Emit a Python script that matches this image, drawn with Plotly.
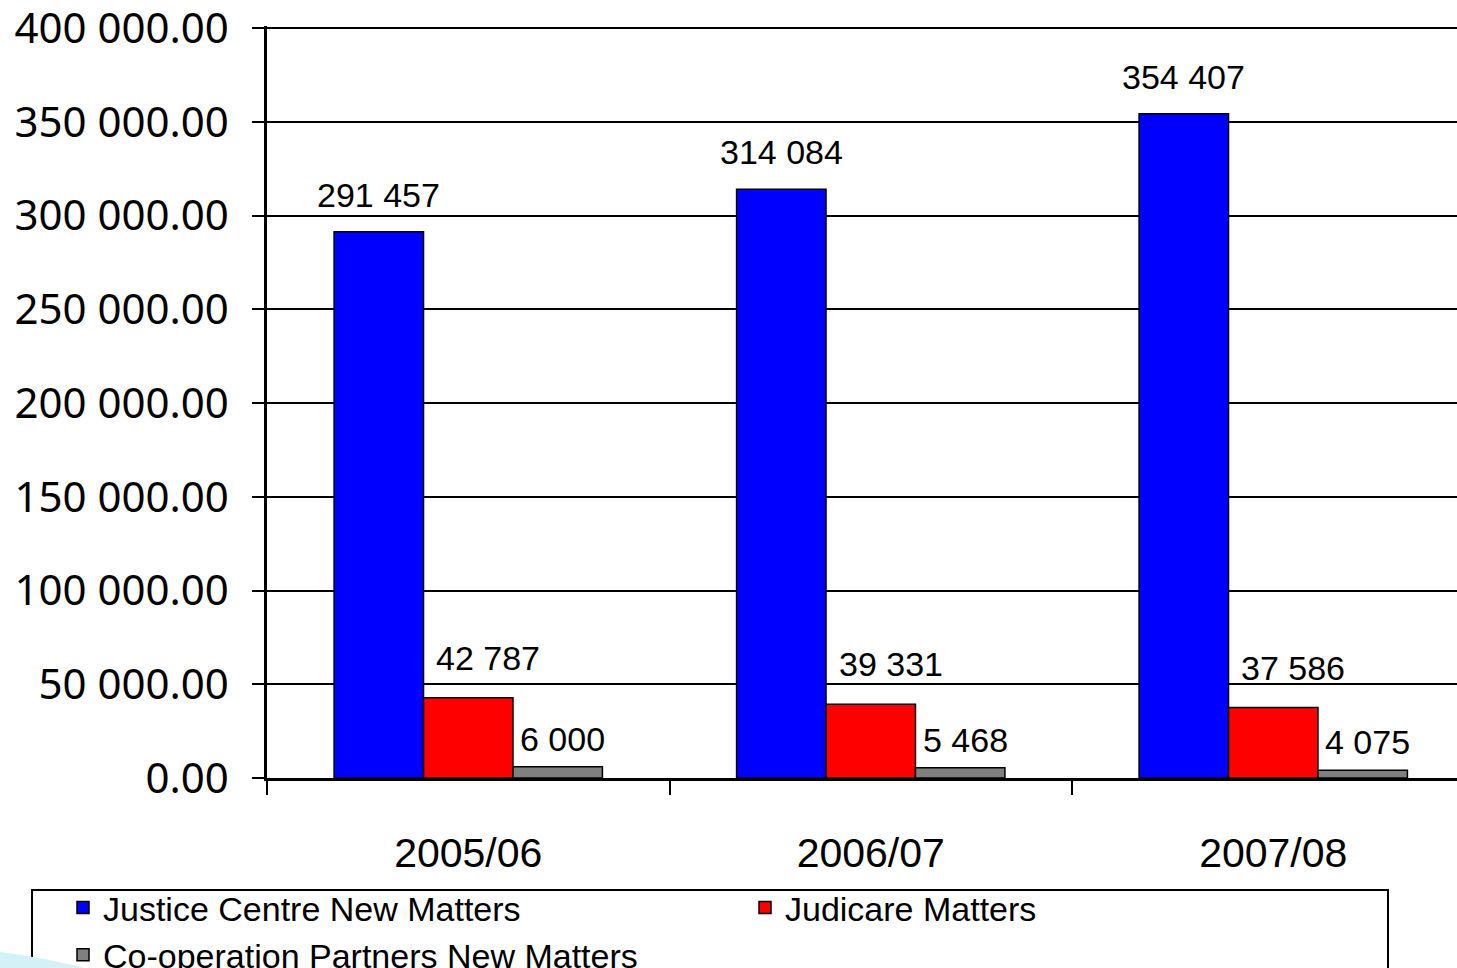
import plotly.graph_objects as go

# Matters per financial year
years = ["2005/06", "2006/07", "2007/08"]
justice_centre = [291457, 314084, 354407]
judicare = [42787, 39331, 37586]
cooperation = [6000, 5468, 4075]

series_names = [
    "Justice Centre New Matters",
    "Judicare Matters",
    "Co-operation Partners New Matters",
]
series_values = [justice_centre, judicare, cooperation]
series_colors = ["#0000FF", "#FF0000", "#808080"]

Y_MAX = 400000
Y_TOP = 401200  # a little headroom so the top gridline is drawn

W, H = 1457, 968
L, R, T, B = 267, 0, 26, 190
PW, PH = W - L - R, H - T - B
BAR_GAP = 1 / 3
bar_w = (1 - BAR_GAP) / len(series_values)

fig = go.Figure()
for name, vals, col in zip(series_names, series_values, series_colors):
    fig.add_trace(go.Bar(
        x=years, y=vals, name=name,
        marker=dict(color=col, line=dict(color="black", width=1.5)),
    ))

# value labels above each bar
label_style = [(0, 37), (20, 40), (5, 28)]  # (xshift, yshift) per series
annotations = []
for k, (vals, (xs, ys)) in enumerate(zip(series_values, label_style)):
    for i, v in enumerate(vals):
        annotations.append(dict(
            x=i + (k - 1) * bar_w, y=v, xref="x", yref="y",
            text=f"{v:,}".replace(",", " "),
            showarrow=False, xanchor="center", yanchor="middle",
            xshift=xs, yshift=ys,
            font=dict(family="Liberation Sans, Arial", size=34, color="black"),
        ))


def pa(x, y):
    """pixel position -> plot-area paper coordinates"""
    return (x - L) / PW, (H - B - y) / PH


shapes = []
# legend frame
fx0, fy1 = pa(32, 890)
fx1, _ = pa(1388, 890)
_, fy0 = pa(0, 1000)
shapes.append(dict(type="rect", xref="paper", yref="paper",
                   x0=fx0, x1=fx1, y0=fy0, y1=fy1,
                   line=dict(color="black", width=2), fillcolor="white",
                   layer="below"))
# decorative swoosh in the lower left corner
a, b, c, d = pa(0, 952), pa(40, 957), pa(85, 968), pa(0, 968)
path = (f"M {a[0]},{a[1]} Q {b[0]},{b[1]} {c[0]},{c[1]} "
        f"L {d[0]},{d[1]} Z")
shapes.append(dict(type="path", xref="paper", yref="paper", path=path,
                   fillcolor="#d4f1f7", line=dict(width=0), layer="above"))

n_visible = PW / 402.5
lx, ly = pa(63, 879)

fig.update_layout(
    width=W, height=H,
    margin=dict(l=L, r=R, t=T, b=B, autoexpand=False),
    paper_bgcolor="white", plot_bgcolor="white",
    barmode="group", bargap=BAR_GAP, bargroupgap=0,
    separators=". ",
    showlegend=True,
    legend=dict(
        orientation="h", xref="paper", yref="paper",
        x=lx, y=ly, xanchor="left", yanchor="top",
        entrywidth=637, entrywidthmode="pixels",
        font=dict(family="Liberation Sans, Arial", size=34, color="black"),
        bgcolor="rgba(0,0,0,0)", borderwidth=0,
        itemclick=False, tracegroupgap=0,
    ),
    xaxis=dict(
        type="category", range=[-0.5, -0.5 + n_visible],
        showline=True, linecolor="black", linewidth=3,
        ticks="outside", tickson="boundaries", ticklen=14,
        tickcolor="black", tickwidth=2,
        ticklabelstandoff=37,
        tickfont=dict(family="Liberation Sans, Arial", size=41, color="black"),
        showgrid=False,
    ),
    yaxis=dict(
        range=[0, Y_TOP], tickvals=list(range(0, Y_MAX + 1, 50000)),
        tickformat=",.2f", ticklabeloverflow="allow",
        showline=True, linecolor="black", linewidth=2.5,
        ticks="outside", ticklen=12, tickcolor="black", tickwidth=2,
        ticklabelstandoff=15,
        showgrid=True, gridcolor="black", gridwidth=2,
        zeroline=False,
        tickfont=dict(family="Noto Sans, DejaVu Sans", size=42, color="black"),
    ),
    annotations=annotations,
    shapes=shapes,
)

fig.write_html("out.html")
